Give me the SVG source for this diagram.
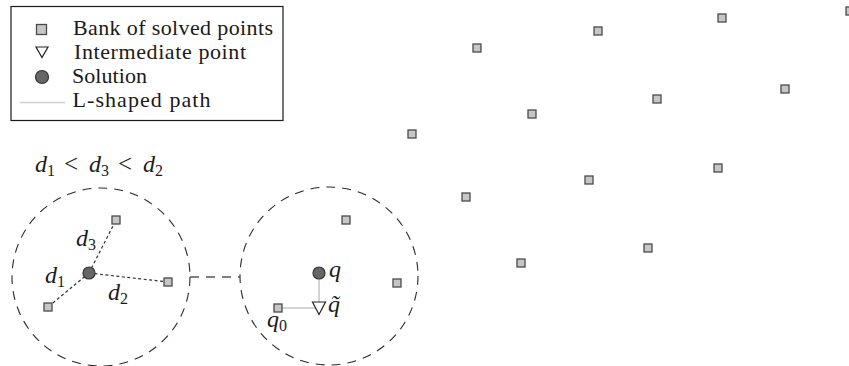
<svg xmlns="http://www.w3.org/2000/svg" width="849" height="366" viewBox="0 0 849 366">
<style>
  .sq { fill: #c6c6c6; stroke: #4a4a4a; stroke-width: 1.3; }
  .sol { fill: #666; stroke: #333; stroke-width: 1.2; }
  .tri { fill: #fff; stroke: #222; stroke-width: 1.2; }
  .region { fill: none; stroke: #2a2a2a; stroke-width: 1.1; stroke-dasharray: 9 7; }
  text { font-family: "Liberation Serif", "Times New Roman", serif; fill: #1a1a1a; }
  .txt { font-size: 22px; }
  .mi { font-size: 24px; font-style: italic; }
  .sub { font-size: 16px; font-style: normal; }
  .rel { font-size: 25px; }
  .dist { stroke: #333; stroke-width: 1.2; stroke-dasharray: 3 2.5; fill: none; }
  .lpath { stroke: #c8c8c8; stroke-width: 1.6; fill: none; }
  .link { stroke: #555; stroke-width: 1.4; stroke-dasharray: 9 7; fill: none; }
</style>

<g id="legend">
  <rect x="11" y="6.5" width="272" height="114" fill="#fff" stroke="#1a1a1a" stroke-width="1.2"/>
  <rect class="sq" x="36.5" y="24.5" width="10" height="10"/>
  <polygon class="tri" points="36,47 48,47 42,57.5"/>
  <circle class="sol" cx="42" cy="77" r="6.5"/>
  <line x1="20" y1="102.5" x2="65" y2="102.5" stroke="#cfcfcf" stroke-width="1.6"/>
  <text class="txt" x="73" y="35" textLength="200" lengthAdjust="spacing">Bank of solved points</text>
  <text class="txt" x="74" y="58.5" textLength="172" lengthAdjust="spacing">Intermediate point</text>
  <text class="txt" x="72" y="82.5" textLength="75" lengthAdjust="spacing">Solution</text>
  <text class="txt" x="72.5" y="106.5" textLength="138" lengthAdjust="spacing">L-shaped path</text>
</g>

<g id="condition">
  <text class="mi" x="35" y="172">d<tspan class="sub" dy="4">1</tspan></text>
  <text class="rel" x="64" y="172">&lt;</text>
  <text class="mi" x="89" y="172">d<tspan class="sub" dy="4">3</tspan></text>
  <text class="rel" x="118" y="172">&lt;</text>
  <text class="mi" x="143" y="172">d<tspan class="sub" dy="4">2</tspan></text>
</g>

<g id="region-left">
  <circle class="region" cx="101" cy="277" r="89"/>
</g>
<g id="region-right">
  <circle class="region" cx="329" cy="276" r="89"/>
</g>

<g id="connectors">
  <line class="link" x1="190" y1="277" x2="240" y2="277"/>
  <line class="dist" x1="89" y1="273" x2="116" y2="220"/>
  <line class="dist" x1="89" y1="273" x2="168" y2="282"/>
  <line class="dist" x1="89" y1="273" x2="48" y2="307"/>
  <polyline class="lpath" points="319,279 319,308 282,308"/>
</g>

<g id="left-points">
  <rect class="sq" x="112" y="216" width="8" height="8"/>
  <rect class="sq" x="164" y="278" width="8" height="8"/>
  <rect class="sq" x="44" y="303" width="8" height="8"/>
  <circle class="sol" cx="89" cy="273" r="6"/>
  <text class="mi" x="76" y="246">d<tspan class="sub" dy="4">3</tspan></text>
  <text class="mi" x="45" y="283">d<tspan class="sub" dy="4">1</tspan></text>
  <text class="mi" x="108" y="300">d<tspan class="sub" dy="4">2</tspan></text>
</g>

<g id="right-points">
  <rect class="sq" x="342" y="216" width="8" height="8"/>
  <rect class="sq" x="393" y="279" width="8" height="8"/>
  <rect class="sq" x="274" y="304" width="8" height="8"/>
  <circle class="sol" cx="319" cy="273" r="6"/>
  <polygon class="tri" points="312.5,302 325.5,302 319,314.5"/>
  <text class="mi" x="329" y="277">q</text>
  <text class="mi" x="328" y="312">q&#x303;</text>
  <text class="mi" x="267" y="327">q<tspan class="sub" dy="4">0</tspan></text>
</g>

<g id="bank">
  <rect class="sq" x="718" y="14" width="8" height="8"/>
  <rect class="sq" x="594" y="27" width="8" height="8"/>
  <rect class="sq" x="473" y="44" width="8" height="8"/>
  <rect class="sq" x="781" y="85" width="8" height="8"/>
  <rect class="sq" x="653" y="95" width="8" height="8"/>
  <rect class="sq" x="528" y="110" width="8" height="8"/>
  <rect class="sq" x="408" y="130" width="8" height="8"/>
  <rect class="sq" x="714" y="164" width="8" height="8"/>
  <rect class="sq" x="585" y="176" width="8" height="8"/>
  <rect class="sq" x="462" y="193" width="8" height="8"/>
  <rect class="sq" x="644" y="244" width="8" height="8"/>
  <rect class="sq" x="517" y="259" width="8" height="8"/>
  <rect class="sq" x="846" y="7" width="8" height="8"/>
</g>
</svg>
